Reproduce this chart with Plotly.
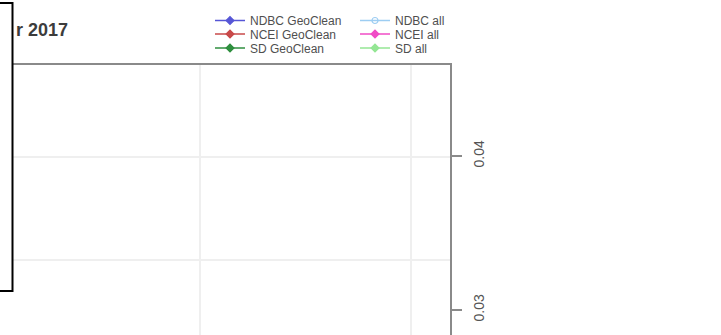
import plotly.graph_objects as go

# Series shown in the key (no observations fall inside the plotted window,
# so each series holds a single missing value)
series_names = ["NDBC GeoClean", "NCEI GeoClean", "SD GeoClean",
                "NDBC all", "NCEI all", "SD all"]
series_colors = ["#5656d6", "#c84a4a", "#2f8f3f",
                 "#9dcdf2", "#f04cc6", "#94e694"]
series_symbols = ["diamond", "diamond", "diamond",
                  "circle-open", "diamond", "diamond"]
series_x = [[None], [None], [None], [None], [None], [None]]
series_y = [[None], [None], [None], [None], [None], [None]]

# Axis ticks
right_tick_vals = [0.03, 0.04]
right_tick_text = ["0.03", "0.04"]
left_grid_vals = [2, 3]
date_grid_vals = ["2017-10-15", "2017-10-22"]

title_text = "r 2017"

W, H = 721, 335
ml, mr, mt, mb = 0, 271, 65, 0
pw, ph = W - ml - mr, H - mt - mb


def px_x(x):
    return (x - ml) / pw


def px_y(y):
    return (H - mb - y) / ph


fig = go.Figure()

# legend slots: two columns, three rows
leg_left = [210, 210, 210, 355, 355, 355]
leg_mid = [20.5, 34, 48, 20.5, 34, 48]

for i, name in enumerate(series_names):
    lid = "legend" if i == 0 else f"legend{i + 1}"
    fig.add_trace(go.Scatter(
        x=series_x[i], y=series_y[i], name=name,
        mode="lines+markers",
        line=dict(color=series_colors[i], width=1.5),
        marker=dict(symbol=series_symbols[i], size=6, color=series_colors[i],
                    line=dict(color=series_colors[i], width=1.2)),
        yaxis="y" if i < 3 else "y2",
        legend=lid, showlegend=True,
    ))
    fig.layout[lid] = dict(
        x=px_x(leg_left[i]), xanchor="left",
        y=px_y(leg_mid[i]), yanchor="middle",
        bgcolor="rgba(0,0,0,0)", borderwidth=0,
        font=dict(family="Liberation Sans", size=12, color="#4f4f4f"),
    )

axis_grey = "#8a8a8a"
grid_grey = "#efefef"

y2_lo = 0.03 - 25 / 15400
y2_hi = 0.04 + 91 / 15400

fig.update_layout(
    width=W, height=H,
    margin=dict(l=ml, r=mr, t=mt, b=mb, pad=0),
    paper_bgcolor="white", plot_bgcolor="white",
    showlegend=True,
    xaxis=dict(
        type="date", side="top",
        range=["2017-10-08 08:45", "2017-10-23 07:03"],
        tickvals=date_grid_vals, showticklabels=False, ticks="",
        showgrid=True, gridcolor=grid_grey, gridwidth=1.5,
        showline=True, linecolor=axis_grey, linewidth=1.5,
        zeroline=False,
    ),
    yaxis=dict(
        range=[2 - 75 / 103, 3 + 92 / 103],
        tickvals=left_grid_vals, showticklabels=False, ticks="",
        showgrid=True, gridcolor=grid_grey, gridwidth=1.5,
        showline=False, zeroline=False,
    ),
    yaxis2=dict(
        overlaying="y", side="right",
        range=[y2_lo, y2_hi],
        tickvals=right_tick_vals, ticktext=right_tick_text,
        tickangle=-90, ticks="outside", ticklen=10,
        tickcolor=axis_grey, tickwidth=1.5,
        ticklabelstandoff=5,
        tickfont=dict(family="Liberation Sans", size=14, color="#555555"),
        showgrid=False, zeroline=False,
        showline=True, linecolor=axis_grey, linewidth=1.5,
    ),
    annotations=[dict(
        text=title_text, xref="paper", yref="paper",
        x=px_x(14), y=px_y(30), xanchor="left", yanchor="middle",
        showarrow=False,
        font=dict(family="Liberation Sans", size=18, color="#3c3c3c",
                  weight="bold"),
    )],
    shapes=[dict(
        type="rect", xref="paper", yref="paper", layer="above",
        x0=-0.2, x1=px_x(12.5), y0=px_y(291), y1=px_y(3),
        line=dict(color="black", width=2), fillcolor="white",
    )],
)

fig.write_html("out.html")
